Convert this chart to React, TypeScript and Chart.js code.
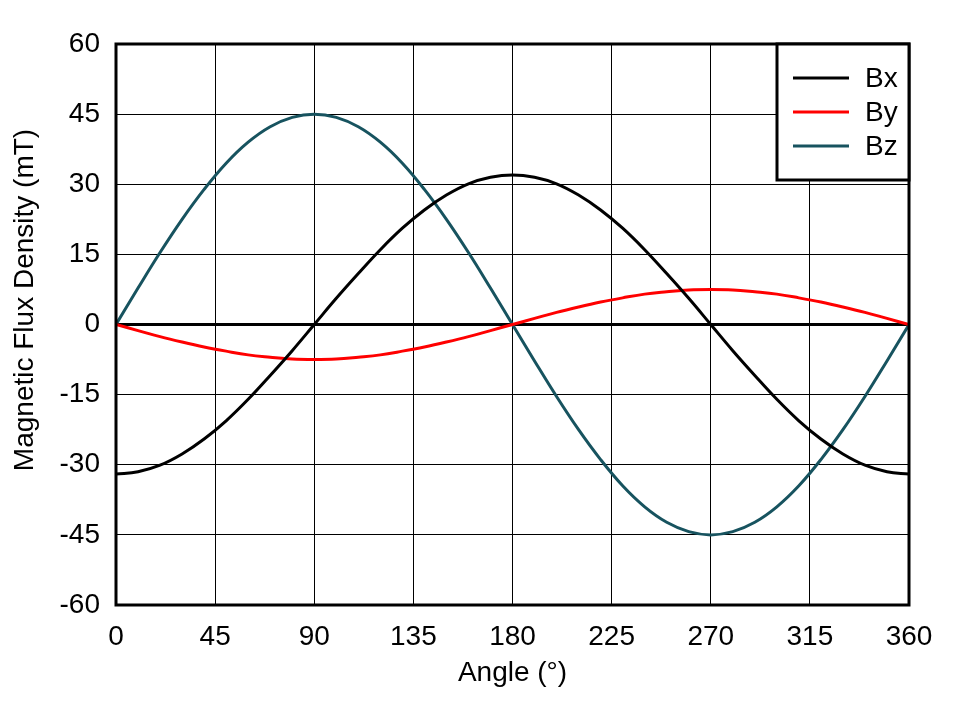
import React, { useEffect, useRef } from "react";
import { Chart, registerables } from "chart.js";
Chart.register(...registerables);

const angles = [0, 10, 20, 30, 40, 50, 60, 70, 80, 90, 100, 110, 120, 130, 140, 150, 160, 170, 180, 190, 200, 210, 220, 230, 240, 250, 260, 270, 280, 290, 300, 310, 320, 330, 340, 350, 360];
const bx = [-32, -31.5, -30.1, -27.7, -24.5, -20.6, -16, -10.9, -5.6, 0, 5.6, 10.9, 16, 20.6, 24.5, 27.7, 30.1, 31.5, 32, 31.5, 30.1, 27.7, 24.5, 20.6, 16, 10.9, 5.6, 0, -5.6, -10.9, -16, -20.6, -24.5, -27.7, -30.1, -31.5, -32];
const by = [0, -1.3, -2.6, -3.75, -4.8, -5.7, -6.5, -7.0, -7.4, -7.5, -7.4, -7.0, -6.5, -5.7, -4.8, -3.75, -2.6, -1.3, 0, 1.3, 2.6, 3.75, 4.8, 5.7, 6.5, 7.0, 7.4, 7.5, 7.4, 7.0, 6.5, 5.7, 4.8, 3.75, 2.6, 1.3, 0];
const bz = [0, 7.8, 15.4, 22.5, 28.9, 34.5, 39, 42.3, 44.3, 45, 44.3, 42.3, 39, 34.5, 28.9, 22.5, 15.4, 7.8, 0, -7.8, -15.4, -22.5, -28.9, -34.5, -39, -42.3, -44.3, -45, -44.3, -42.3, -39, -34.5, -28.9, -22.5, -15.4, -7.8, 0];
const seriesNames = ["Bx", "By", "Bz"];
const seriesColors = ["#000000", "#ff0000", "#17535f"];
const xTicks = [0, 45, 90, 135, 180, 225, 270, 315, 360];
const yTicks = [-60, -45, -30, -15, 0, 15, 30, 45, 60];
const yTitle = "Magnetic Flux Density (mT)";

const FONT = "'Liberation Sans', Arial, sans-serif";
const FS = 28;

const framePlugin = {
  id: "frameLegend",
  afterDatasetsDraw(chart: any) {
    const { ctx, chartArea } = chart;
    const { left, top, right, bottom } = chartArea;
    ctx.save();
    ctx.strokeStyle = "#000";
    ctx.lineWidth = 3;
    ctx.strokeRect(left, top, right - left, bottom - top);
    // legend box
    const bx0 = right - 132;
    const by1 = top + 136;
    ctx.fillStyle = "#fff";
    ctx.fillRect(bx0, top, right - bx0, by1 - top);
    ctx.strokeRect(bx0, top, right - bx0, by1 - top);
    ctx.font = `${FS}px ${FONT}`;
    ctx.textBaseline = "middle";
    ctx.textAlign = "left";
    chart.data.datasets.forEach((ds: any, i: number) => {
      const y = top + 34 + i * 34;
      ctx.strokeStyle = ds.borderColor;
      ctx.lineWidth = 3;
      ctx.beginPath();
      ctx.moveTo(bx0 + 16, y);
      ctx.lineTo(bx0 + 72, y);
      ctx.stroke();
      ctx.fillStyle = "#000";
      ctx.fillText(ds.label, bx0 + 88, y + 1);
    });
    // y axis title
    ctx.translate(25, 300);
    ctx.rotate(-Math.PI / 2);
    ctx.textAlign = "center";
    ctx.fillStyle = "#000";
    ctx.fillText(yTitle, 0, 0);
    ctx.restore();
  },
};

export default function App() {
  const ref = useRef<HTMLCanvasElement>(null);
  useEffect(() => {
    const series = [bx, by, bz];
    const chart = new Chart(ref.current!, {
      type: "line",
      data: {
        datasets: series.map((s, i) => ({
          label: seriesNames[i],
          data: s.map((v, j) => ({ x: angles[j], y: v })),
          borderColor: seriesColors[i],
          backgroundColor: seriesColors[i],
          borderWidth: 3,
          pointRadius: 0,
          tension: 0.4,
          fill: false,
        })),
      },
      options: {
        animation: false,
        responsive: false,
        maintainAspectRatio: false,
        layout: { padding: { left: 8, right: 49, top: 44, bottom: 8 } },
        plugins: { legend: { display: false }, tooltip: { enabled: false } },
        scales: {
          x: {
            type: "linear",
            min: 0,
            max: 360,
            afterBuildTicks: (s: any) => { s.ticks = xTicks.map((v) => ({ value: v })); },
            afterFit: (s: any) => { s.height = 88; },
            grid: { color: "#000", lineWidth: 1, drawTicks: false },
            border: { display: false },
            ticks: { color: "#000", font: { family: FONT, size: FS }, padding: 15, maxRotation: 0 },
            title: { display: true, text: "Angle (°)", color: "#000", font: { family: FONT, size: FS }, padding: { top: 0, bottom: 3 } },
          },
          y: {
            type: "linear",
            min: -60,
            max: 60,
            afterBuildTicks: (s: any) => { s.ticks = yTicks.map((v) => ({ value: v })); },
            afterFit: (s: any) => { s.width = 108; },
            grid: {
              color: "#000",
              lineWidth: (c: any) => (c.tick && c.tick.value === 0 ? 3 : 1),
              drawTicks: false,
            },
            border: { display: false },
            ticks: { color: "#000", font: { family: FONT, size: FS }, padding: 16 },
            title: { display: false },
          },
        },
      },
      plugins: [framePlugin],
    });
    return () => chart.destroy();
  }, []);
  return (
    <div style={{ position: "fixed", left: 0, top: 0, width: 958, height: 701, background: "#fff" }}>
      <canvas ref={ref} width={958} height={701} style={{ width: 958, height: 701 }} />
    </div>
  );
}
